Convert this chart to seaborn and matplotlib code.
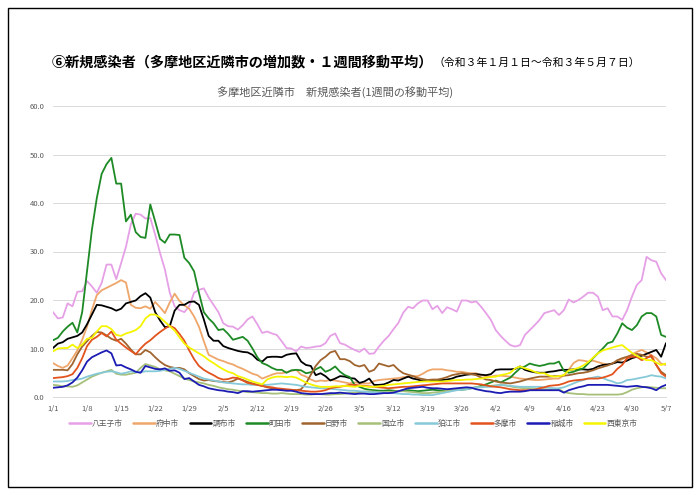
import matplotlib
matplotlib.use("Agg")
import matplotlib.pyplot as plt
import seaborn as sns
import pandas as pd
import numpy as np
from matplotlib.patches import Rectangle

cities = ["八王子市", "府中市", "調布市", "町田市", "日野市", "国立市", "狛江市", "多摩市", "稲城市", "西東京市"]
colors = ["#e6a0e6", "#eea66a", "#000000", "#1d8a25", "#a0642e", "#a6c07a", "#86c9d8", "#e2531d", "#1c1cb4", "#f5f500"]
tick_labels = ["1/1", "1/8", "1/15", "1/22", "1/29", "2/5", "2/12", "2/19", "2/26", "3/5",
               "3/12", "3/19", "3/26", "4/2", "4/9", "4/16", "4/23", "4/30", "5/7"]
y_ticks = [0, 10, 20, 30, 40, 50, 60]

hachioji = [17.5, 16.2, 16.4, 19.3, 18.7, 21.7, 21.8,
            23.9, 22.8, 21.5, 23.5, 27.3, 27.3, 24.3,
            27.6, 31.0, 35.6, 37.8, 37.6, 36.8, 36.9,
            33.5, 29.7, 26.3, 21.5, 18.7, 17.9, 17.5,
            18.7, 21.5, 22.1, 22.4, 20.5, 19.0, 17.5,
            15.2, 14.6, 14.5, 13.9, 14.8, 16.0, 16.6,
            15.0, 13.2, 13.5, 13.1, 12.8, 11.5, 10.1,
            10.0, 9.4, 10.4, 10.1, 10.2, 10.4, 10.5,
            11.1, 12.6, 13.1, 11.1, 10.8, 10.2, 9.7,
            9.3, 10.0, 8.9, 9.0, 10.4, 11.6, 12.6,
            14.0, 15.3, 17.4, 18.6, 18.3, 19.3, 19.9,
            19.9, 18.1, 18.8, 17.3, 18.5, 18.1, 17.6,
            19.9, 19.9, 19.5, 19.7, 18.6, 17.3, 15.9,
            13.8, 12.6, 11.6, 10.7, 10.4, 10.7, 12.8,
            13.8, 14.8, 15.9, 17.3, 17.6, 17.9, 16.9,
            17.9, 20.1, 19.5, 20.0, 20.7, 21.5, 21.5,
            20.7, 17.9, 18.3, 16.6, 16.6, 15.9, 17.9,
            20.7, 23.1, 24.1, 28.9, 28.2, 27.9, 25.5,
            24.1]
fuchu = [7.0, 6.4, 6.0, 6.5, 8.0, 9.6, 11.8,
         14.5, 18.0, 21.0, 22.0, 22.5, 23.0, 23.5,
         24.1, 23.6, 19.0, 18.4, 18.3, 18.7, 18.2,
         19.6, 18.5, 17.3, 19.5, 21.3, 19.8, 18.9,
         18.2, 16.6, 14.5, 11.5, 8.7, 8.2, 7.7,
         7.4, 7.0, 6.7, 6.2, 5.8, 5.3, 4.8,
         4.5, 3.8, 4.2, 4.6, 4.9, 4.9, 5.1,
         5.4, 5.6, 4.6, 4.2, 3.6, 3.2, 3.4,
         3.3, 3.5, 3.4, 3.2, 3.0, 2.8, 3.0,
         2.9, 2.8, 2.8, 3.3, 3.5, 3.6, 3.7,
         3.8, 3.9, 4.1, 4.2, 4.3, 4.3, 4.8,
         5.4, 5.7, 5.7, 5.7, 5.5, 5.4, 5.2,
         5.2, 5.0, 4.9, 4.9, 4.5, 4.3, 4.2,
         4.4, 4.4, 4.3, 4.2, 4.0, 3.8, 3.7,
         3.6, 3.5, 3.5, 3.6, 3.7, 3.8, 3.8,
         4.5, 5.6, 7.0, 7.6, 7.5, 7.3, 7.5,
         7.2, 6.9, 6.7, 6.9, 7.3, 7.8, 8.2,
         8.8, 9.3, 9.7, 9.2, 8.6, 8.0, 6.9,
         6.6]
chofu = [10.1, 11.0, 11.3, 12.0, 12.3, 12.6, 13.3,
         15.0, 17.0, 19.0, 18.9, 18.6, 18.3, 17.8,
         18.2, 19.3, 19.6, 19.9, 20.8, 21.4, 20.5,
         17.5, 15.8, 14.4, 14.6, 17.8, 19.0, 19.0,
         19.6, 19.7, 19.0, 16.0, 12.6, 11.6, 11.6,
         10.5, 10.1, 9.8, 9.5, 9.3, 9.2, 8.7,
         7.7, 7.3, 8.2, 8.3, 8.3, 8.2, 8.7,
         8.9, 9.0, 7.3, 6.6, 6.4, 4.5, 4.9,
         4.3, 3.4, 3.8, 4.3, 4.2, 3.9, 3.8,
         2.9, 3.2, 3.8, 2.5, 2.5, 2.6, 3.0,
         3.5, 3.4, 3.8, 4.2, 3.8, 3.6, 3.3,
         3.3, 3.5, 3.5, 3.5, 3.6, 3.8, 4.2,
         4.4, 4.6, 4.7, 4.7, 4.6, 4.5, 4.7,
         5.6, 5.7, 5.7, 5.7, 5.8, 6.3, 5.6,
         5.3, 5.1, 5.0, 5.0, 5.2, 5.3, 5.5,
         5.6, 5.6, 5.7, 5.7, 5.7, 5.6, 5.8,
         6.3, 6.6, 6.7, 6.9, 7.2, 7.1, 7.5,
         8.0, 8.3, 8.5, 8.9, 9.3, 9.7, 8.3,
         11.1]
machida = [11.7, 12.2, 13.5, 14.5, 15.3, 13.3, 17.5,
           26.0, 34.5, 41.0, 46.0, 48.0, 49.3, 44.0,
           44.0, 36.2, 37.6, 34.0, 33.0, 32.8, 39.7,
           36.2, 32.6, 31.8, 33.5, 33.5, 33.4, 28.7,
           27.6, 25.9, 21.5, 17.5, 16.2, 15.2, 13.8,
           14.0, 13.0, 11.8, 12.1, 12.4, 11.6, 10.0,
           8.2, 7.0, 6.6, 6.0, 5.6, 5.6, 5.0,
           5.5, 5.6, 5.5, 4.9, 5.1, 5.7, 6.2,
           5.2, 5.6, 6.3, 5.2, 4.5, 4.1, 2.5,
           2.1, 1.7, 1.5, 1.4, 1.3, 1.3, 1.4,
           1.3, 1.2, 1.3, 1.4, 1.3, 1.2, 1.3,
           1.4, 1.5, 1.4, 1.3, 1.4, 1.5, 1.6,
           1.5, 1.6, 1.8, 2.0, 2.3, 2.6, 3.0,
           3.4, 3.0, 3.5, 4.0, 5.0, 5.9, 6.3,
           6.9, 6.6, 6.4, 6.6, 6.9, 6.9, 7.3,
           5.4, 5.0, 5.2, 5.6, 5.9, 6.9, 8.0,
           9.0, 10.0, 11.1, 11.4, 13.1, 15.2, 14.3,
           13.8, 14.8, 16.6, 17.3, 17.3, 16.6, 12.8,
           12.4]
hino = [5.6, 5.6, 5.6, 5.5, 6.8, 8.8, 10.4,
        11.5, 12.6, 13.4, 13.3, 12.7, 12.0, 11.6,
        12.0, 11.0, 9.8, 8.8, 8.8, 9.7, 9.2,
        8.2, 7.3, 6.6, 6.2, 6.0, 6.0, 5.7,
        4.9, 4.3, 3.7, 3.4, 3.5, 3.3, 3.2,
        3.1, 3.0, 3.3, 3.8, 3.5, 3.1, 2.8,
        2.5, 2.3, 2.0, 1.8, 1.6, 1.5, 1.4,
        1.4, 1.4, 1.6, 2.8, 4.6, 6.4, 7.6,
        8.3, 9.2, 9.5, 7.8, 7.8, 7.4, 6.6,
        6.3, 6.6, 5.2, 5.6, 6.9, 6.6, 6.3,
        6.6, 5.6, 4.9, 4.6, 4.3, 3.9, 3.7,
        3.5, 3.6, 3.6, 3.8, 4.1, 4.5, 4.7,
        4.9, 4.8, 4.7, 4.5, 4.0, 3.6, 3.5,
        3.2, 3.0, 2.9, 2.8, 3.0, 3.2, 3.5,
        3.8, 4.0, 4.2, 4.2, 4.2, 4.3, 4.3,
        4.4, 4.5, 4.7, 4.9, 5.0, 5.2, 5.5,
        5.9, 6.2, 6.5, 6.9, 7.6, 8.0, 8.3,
        8.6, 8.9, 8.7, 8.3, 8.3, 6.6, 5.2,
        4.5]
kunitachi = [2.5, 2.4, 2.2, 2.2, 2.1, 2.4, 3.0,
             3.6, 4.2, 4.6, 5.0, 5.3, 5.6, 4.8,
             4.6, 4.6, 4.8, 5.0, 6.0, 6.8, 6.5,
             6.2, 5.7, 5.5, 5.3, 4.8, 4.3, 3.8,
             3.5, 3.2, 3.0, 2.8, 2.5, 2.3, 2.0,
             1.8, 1.6, 1.5, 1.3, 1.2, 1.0, 1.0,
             0.9, 0.8, 0.8, 0.7, 0.7, 0.8, 0.7,
             0.6, 0.6, 0.6, 0.5, 0.5, 0.6, 0.6,
             0.5, 0.5, 0.6, 0.6, 0.7, 0.8, 0.9,
             1.0, 1.1, 1.2, 1.1, 1.0, 1.0, 1.0,
             1.1, 1.2, 1.2, 1.1, 1.0, 0.9, 0.8,
             0.8, 0.9, 1.0, 1.1, 1.3, 1.5, 1.6,
             1.7, 1.8, 1.9, 2.0, 2.1, 2.2, 2.3,
             2.4, 2.5, 2.4, 2.2, 2.0, 1.9, 1.8,
             1.8, 1.7, 1.6, 1.6, 1.5, 1.5, 1.6,
             1.0, 0.8, 0.7, 0.6, 0.6, 0.5, 0.5,
             0.5, 0.5, 0.5, 0.5, 0.5, 0.6, 1.0,
             1.5, 1.8, 2.0, 2.1, 2.0, 1.9, 1.8,
             1.8]
komae = [3.2, 3.2, 3.2, 3.3, 3.5, 3.6, 3.8,
         4.2, 4.5, 4.8, 5.0, 5.2, 5.3, 5.1,
         4.8, 5.0, 5.3, 5.1, 5.1, 5.3, 5.3,
         5.3, 5.4, 5.6, 5.8, 6.0, 5.8, 5.4,
         5.0, 4.6, 4.2, 3.8, 3.6, 3.4, 3.2,
         3.0, 2.9, 2.8, 2.7, 2.6, 2.6, 2.5,
         2.5, 2.5, 2.5, 2.6, 2.7, 2.8, 2.7,
         2.6, 2.5, 2.3, 2.1, 2.0, 1.9, 1.8,
         1.8, 1.7, 1.6, 1.5, 1.4, 1.3, 1.3,
         1.2, 1.1, 1.0, 1.0, 0.9, 0.9, 0.8,
         0.8, 0.7, 0.6, 0.6, 0.5, 0.5, 0.4,
         0.4, 0.4, 0.6, 0.8, 1.0, 1.2, 1.4,
         1.5, 1.6, 1.8, 2.0, 2.0, 2.1, 2.1,
         2.3, 2.5, 2.4, 2.3, 2.2, 2.1, 2.1,
         2.1, 2.1, 2.1, 2.0, 1.9, 1.8, 1.8,
         2.0, 2.4, 2.8, 3.2, 3.5, 3.8, 4.0,
         4.2, 3.9, 3.5, 3.2, 2.8, 3.0, 3.5,
         3.6, 3.8, 4.0, 4.2, 4.5, 4.3, 4.2,
         3.8]
tama = [3.9, 4.0, 4.1, 4.3, 4.7, 6.0, 8.0,
        10.5, 11.8, 12.4, 13.2, 12.5, 13.5, 11.8,
        11.0, 10.2, 9.5, 8.8, 10.0, 11.0, 11.7,
        12.6, 13.4, 14.1, 14.7, 14.2, 13.0, 11.6,
        9.6, 7.8, 6.4, 5.6, 5.0, 4.5, 3.9,
        3.6, 3.7, 4.0, 3.9, 3.4, 2.9, 2.7,
        2.5, 2.3, 2.1, 2.0, 1.8, 1.7, 1.6,
        1.5, 1.4, 1.3, 1.2, 1.1, 1.1, 1.2,
        1.4, 1.8, 2.0, 2.1, 2.3, 2.5, 2.5,
        2.4, 2.3, 2.2, 2.1, 2.0, 1.9, 1.8,
        1.9, 2.0, 2.1, 2.1, 2.2, 2.3, 2.4,
        2.5, 2.6, 2.7, 2.8, 2.8, 2.8, 2.8,
        2.8, 2.8, 2.8, 2.7, 2.6, 2.4, 2.2,
        2.1, 2.0, 1.8, 1.6, 1.5, 1.4, 1.4,
        1.4, 1.5, 1.8, 2.0, 2.3, 2.4, 2.5,
        2.8, 3.2, 3.4, 3.5, 3.6, 3.8, 3.8,
        3.8, 4.0, 4.3, 4.7, 5.8, 6.6, 8.0,
        8.3, 8.3, 7.6, 8.0, 8.6, 6.6, 4.9,
        4.2]
inagi = [1.9, 2.0, 2.1, 2.4, 3.0, 4.0, 5.5,
         7.3, 8.2, 8.7, 9.2, 9.6, 9.0, 6.5,
         6.6, 6.1, 5.7, 5.2, 5.0, 6.4, 6.1,
         5.8, 5.7, 5.9, 5.4, 5.5, 5.0, 3.7,
         3.9, 3.2, 2.5, 2.2, 1.8, 1.6, 1.4,
         1.3, 1.1, 1.0, 0.8, 1.2, 1.2, 1.1,
         1.2, 1.3, 1.4, 1.5, 1.5, 1.4, 1.3,
         1.3, 1.1, 0.8, 0.7, 0.6, 0.6, 0.6,
         0.7, 0.8, 0.8, 0.9, 0.8, 0.7, 0.6,
         0.7, 0.7, 0.6, 0.6, 0.7, 0.8, 0.8,
         0.9, 1.2, 1.5, 1.8, 1.9, 2.0, 2.1,
         1.9, 1.8, 1.8, 1.7, 1.6, 1.7, 1.8,
         1.9, 2.0, 1.9, 1.6, 1.4, 1.2, 1.1,
         0.9, 0.8, 1.0, 1.1, 1.1, 1.1, 1.2,
         1.4, 1.4, 1.4, 1.4, 1.4, 1.4, 1.4,
         0.9, 1.4, 1.7, 2.0, 2.2, 2.5, 2.5,
         2.5, 2.5, 2.5, 2.4, 2.3, 2.2, 2.1,
         2.2, 2.3, 2.1, 2.0, 1.8, 1.4, 2.1,
         2.5]
nishitokyo = [9.4, 10.0, 10.1, 10.1, 10.8, 10.1, 10.8,
              12.0, 12.2, 13.5, 14.6, 14.6, 14.0, 12.8,
              12.6, 13.1, 13.4, 13.8, 14.6, 16.2, 17.0,
              17.0, 16.4, 15.5, 14.6, 13.7, 12.3, 11.0,
              10.2, 9.6, 9.0, 8.4, 7.6, 7.0, 6.3,
              5.7, 5.2, 4.9, 4.3, 4.0, 3.6, 3.2,
              2.9, 2.6, 3.6, 4.0, 4.2, 4.2, 4.1,
              4.2, 4.0, 3.5, 3.0, 2.6, 2.3, 2.1,
              2.1, 2.1, 2.2, 2.2, 2.3, 2.2, 2.1,
              2.3, 2.2, 2.1, 2.1, 2.2, 2.3, 2.5,
              2.6, 2.7, 2.8, 2.9, 3.0, 3.1, 3.2,
              3.2, 3.2, 3.2, 3.2, 3.3, 3.4, 3.5,
              3.5, 3.6, 3.6, 3.7, 3.8, 4.0, 4.1,
              4.2, 4.5, 4.7, 5.0, 5.9, 6.3, 5.9,
              5.6, 5.2, 4.9, 4.9, 4.4, 4.2, 4.3,
              4.5, 5.5, 5.7, 6.0, 6.5, 7.2, 8.1,
              9.0, 9.6, 9.9, 10.2, 10.5, 10.7, 9.9,
              9.1, 8.5, 8.0, 7.6, 7.6, 7.1, 6.6,
              6.9]

series = [hachioji, fuchu, chofu, machida, hino, kunitachi, komae, tama, inagi, nishitokyo]

rows = []
for name, vals in zip(cities, series):
    for d, v in enumerate(vals):
        rows.append({"day": d, "city": name, "value": v})
df = pd.DataFrame(rows)

sns.set_theme(style="white")
plt.rcParams["font.family"] = ["Noto Sans CJK JP", "DejaVu Sans"]

fig = plt.figure(figsize=(7.0, 4.95), dpi=100)
ax = fig.add_axes([53 / 700, 1 - 397 / 495, (666 - 53) / 700, (397 - 106) / 495])

sns.lineplot(data=df, x="day", y="value", hue="city", hue_order=cities,
             palette=dict(zip(cities, colors)), linewidth=1.3, ax=ax, legend=True)

ax.set_xlim(0, 126)
ax.set_ylim(0, 60)
ax.set_yticks(y_ticks)
ax.set_yticklabels([f"{v:.1f}" for v in y_ticks], fontsize=5.5, color="#595959")
ax.set_xticks(list(range(0, 127, 7)))
ax.set_xticklabels(tick_labels, fontsize=5.5, color="#595959")
ax.tick_params(axis="both", length=0, pad=6)
ax.yaxis.grid(True, color="#d9d9d9", linewidth=0.7)
ax.set_axisbelow(True)
for s in ["top", "right", "left"]:
    ax.spines[s].set_visible(False)
ax.spines["bottom"].set_color("#d9d9d9")
ax.spines["bottom"].set_linewidth(0.7)
ax.set_xlabel("")
ax.set_ylabel("")

handles, labels = ax.get_legend_handles_labels()
for h in handles:
    h.set_linewidth(1.8)
ax.legend(handles, labels, loc="upper center", bbox_to_anchor=(0.49, -0.055), ncol=10,
          frameon=False, fontsize=5.6, handlelength=2.8, handletextpad=0.15,
          columnspacing=1.3, labelcolor="#595959")

# Titles
t1 = fig.text(52 / 700, 1 - 62 / 495, "⑥新規感染者（多摩地区近隣市の増加数・１週間移動平均）",
              fontsize=10.2, fontweight="bold", color="#000000", va="center", ha="left")
fig.canvas.draw()
bb = t1.get_window_extent()
x_end = bb.x1 / fig.bbox.width
fig.text(x_end, 1 - 63 / 495, "（令和３年１月１日～令和３年５月７日）",
         fontsize=7.8, color="#000000", va="center", ha="left")
fig.text(335 / 700, 1 - 92 / 495, "多摩地区近隣市　新規感染者(1週間の移動平均)",
         fontsize=8, color="#595959", va="center", ha="center")

# Outer border
fig.patches.append(Rectangle((8 / 700, 8 / 495), 684 / 700, 479 / 495, transform=fig.transFigure,
                             fill=False, edgecolor="black", linewidth=1.0))

fig.savefig("out.png", dpi=100)
